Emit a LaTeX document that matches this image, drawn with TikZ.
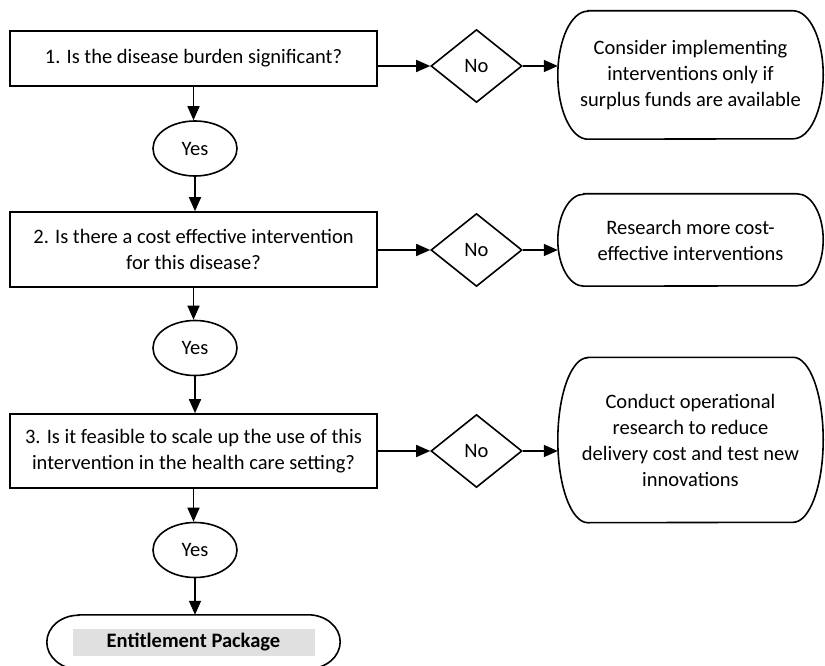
\documentclass[tikz,border=0pt]{standalone}
\usepackage{fontspec}
\setmainfont{Carlito}
\usetikzlibrary{shapes.geometric, arrows.meta}

% outline with bulging sides: node, bulge, half height
\newcommand{\sideoutline}[3]{%
  \draw[line width=1.6pt] ([xshift=#2pt]#1.north west) -- ([xshift=-#2pt]#1.north east)
    arc[start angle=90, end angle=-90, x radius=#2pt, y radius=#3pt]
    -- ([xshift=#2pt]#1.south west)
    arc[start angle=270, end angle=90, x radius=#2pt, y radius=#3pt] -- cycle;}

\begin{document}
\begin{tikzpicture}[x=1pt, y=1pt, font=\fontsize{20.5}{26}\selectfont,
    question/.style={draw, line width=1.6pt, rectangle, minimum width=367pt, align=center, inner sep=2pt},
    answer/.style={draw, line width=1.6pt, ellipse, minimum width=84pt, minimum height=55pt, inner sep=0pt},
    nobox/.style={draw, line width=1.6pt, diamond, aspect=1.25, minimum width=91pt, minimum height=73pt, inner sep=0pt},
    outcome/.style={align=center, minimum width=265pt, inner sep=0pt},
    arr/.style={line width=1.6pt, -{Triangle[length=14pt, width=12pt]}}]
  \useasboundingbox (0,0) rectangle (825,-666);

  % questions
  \node[question, minimum height=55pt] (q1) at (193.5,-58.5) {1. Is the disease burden significant?};
  \node[question, minimum height=75pt] (q2) at (193.5,-249.5) {2. Is there a cost effective intervention\\for this disease?};
  \node[question, minimum height=74pt] (q3) at (193.5,-451) {3. Is it feasible to scale up the use of this\\intervention in the health care setting?};

  % yes
  \node[answer] (y1) at (195,-148.5) {Yes};
  \node[answer] (y2) at (195,-348) {Yes};
  \node[answer] (y3) at (195,-550) {Yes};

  % no
  \node[nobox] (n1) at (476.5,-66) {No};
  \node[nobox] (n2) at (476.5,-250) {No};
  \node[nobox] (n3) at (476.5,-451) {No};

  % outcomes
  \node[outcome, minimum height=128pt] (t1) at (690.5,-75) {Consider implementing\\interventions only if\\surplus funds are available};
  \node[outcome, minimum height=92pt] (t2) at (690.5,-240) {Research more cost-\\effective interventions};
  \node[outcome, minimum height=165pt] (t3) at (690.5,-440) {Conduct operational\\research to reduce\\delivery cost and test new\\innovations};
  \sideoutline{t1}{30}{64}
  \sideoutline{t2}{26}{46}
  \sideoutline{t3}{30}{82.5}

  % entitlement package
  \node[outcome, minimum width=293pt, minimum height=54pt] (ep) at (193.5,-642) {};
  \sideoutline{ep}{32}{27}
  \node[fill=black!12, minimum width=242pt, minimum height=27pt, inner sep=0pt, font=\fontsize{20.5}{26}\selectfont\bfseries] (eplabel) at (ep) {Entitlement Package};

  % connectors
  \draw[arr] (q1.south) -- (q1.south |- y1.north);
  \draw[arr] (y1.south) -- (y1.south |- q2.north);
  \draw[arr] (q2.south) -- (q2.south |- y2.north);
  \draw[arr] (y2.south) -- (y2.south |- q3.north);
  \draw[arr] (q3.south) -- (q3.south |- y3.north);
  \draw[arr] (y3.south) -- (y3.south |- ep.north);

  \draw[arr] (q1.east |- n1) -- (n1.west);
  \draw[arr] (q2.east |- n2) -- (n2.west);
  \draw[arr] (q3.east |- n3) -- (n3.west);
  \draw[arr] (n1.east) -- (n1.east -| t1.west);
  \draw[arr] (n2.east) -- (n2.east -| t2.west);
  \draw[arr] (n3.east) -- (n3.east -| t3.west);
\end{tikzpicture}
\end{document}
